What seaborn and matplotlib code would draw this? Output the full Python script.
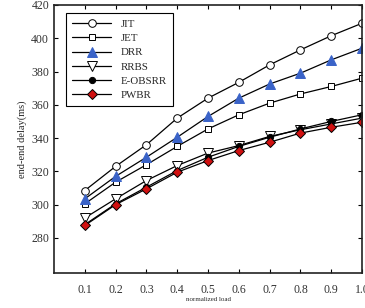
# Import libraries
import matplotlib
matplotlib.use('Agg')
import matplotlib.pyplot as plt
import seaborn as sns

# Define data
load = [0.1, 0.2, 0.3, 0.4, 0.5, 0.6, 0.7, 0.8, 0.9, 1.0]
jit = [308.5, 323, 336, 352, 364, 373.5, 384, 393, 401.5, 409]
jet = [300.5, 313.5, 324, 335, 345.5, 354, 361, 366.5, 371, 376]
drr = [303.5, 317, 328.5, 340.5, 353, 364, 372.5, 379, 387, 394]
rrbs = [292, 303.5, 314.5, 323.5, 331, 335.5, 341, 345, 348.5, 352]
eobsrr = [288, 300.5, 310.5, 320.5, 328.5, 335, 340.5, 345.5, 350, 354]
pwbr = [287.5, 300, 309.5, 319.5, 326.5, 332.5, 337.5, 343, 346.5, 349.5]

sns.set_style('ticks')
plt.rcParams['font.family'] = ['Liberation Serif', 'DejaVu Serif']

fig = plt.figure(figsize=(3.65, 3.08), dpi=100)
ax = fig.add_axes([0.148, 0.114, 0.844, 0.87])

series = [
    ('JIT', jit, dict(marker='o', markerfacecolor='white', markeredgecolor='black', markersize=5.5)),
    ('JET', jet, dict(marker='s', markerfacecolor='white', markeredgecolor='black', markersize=5)),
    ('DRR', drr, dict(marker='^', markerfacecolor='#3a63c8', markeredgecolor='#3a63c8', markersize=7.5)),
    ('RRBS', rrbs, dict(marker='v', markerfacecolor='white', markeredgecolor='black', markersize=7)),
    ('E-OBSRR', eobsrr, dict(marker='o', markerfacecolor='black', markeredgecolor='black', markersize=4.5)),
    ('PWBR', pwbr, dict(marker='D', markerfacecolor='#d01010', markeredgecolor='black', markersize=5.5)),
]

for name, vals, style in series:
    sns.lineplot(x=load, y=vals, ax=ax, color='black', linewidth=0.9, label=name,
                 markeredgewidth=0.7, **style)

ax.set_xlim(0.0, 1.0)
ax.set_ylim(259, 420)
ax.set_xticks(load)
ax.set_xticklabels(['0.1', '0.2', '0.3', '0.4', '0.5', '0.6', '0.7', '0.8', '0.9', '1.0'])
ax.set_yticks([280, 300, 320, 340, 360, 380, 400, 420])
ax.tick_params(direction='in', top=True, right=True, labelsize=8.5, length=3, width=0.8,
               colors='black', labelcolor='#333333')
ax.tick_params(axis='x', pad=8)
for s in ax.spines.values():
    s.set_linewidth(1.2)
    s.set_color('#222222')

ax.set_xlabel('normalized load', fontsize=5, labelpad=1)
ax.set_ylabel('end-end delay(ms)', fontsize=7.5, labelpad=3)

leg = ax.legend(loc='upper left', bbox_to_anchor=(0.02, 0.99), fontsize=7.8, handlelength=3.6,
                labelspacing=0.42, borderpad=0.6, handletextpad=0.9, fancybox=False,
                frameon=True, edgecolor='black', framealpha=1)
leg.get_frame().set_linewidth(0.8)

fig.savefig('out.png', dpi=100)
